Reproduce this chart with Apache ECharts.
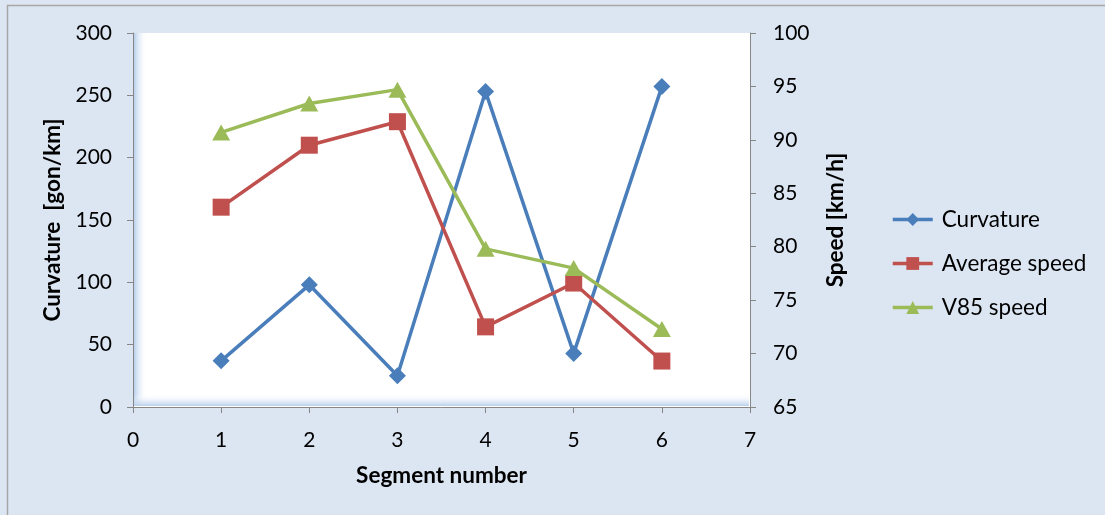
<!DOCTYPE html>
<html>
<head>
<meta charset="utf-8">
<script src="https://cdn.jsdelivr.net/npm/echarts@6/dist/echarts.min.js"></script>
<style>
  html, body { margin: 0; padding: 0; background: #dce6f2; }
  #chart { width: 1105px; height: 515px; }
</style>
</head>
<body>
<div id="chart"></div>
<script>
// Segment numbers along the x axis
const segments = [1, 2, 3, 4, 5, 6];
// Curvature per segment [gon/km] (left axis)
const curvature = [37, 98, 25, 253, 43, 257];
// Mean speed per segment [km/h] (right axis)
const averageSpeed = [83.7, 89.5, 91.7, 72.5, 76.6, 69.3];
// 85th percentile speed per segment [km/h] (right axis)
const v85Speed = [90.7, 93.4, 94.7, 79.8, 78.0, 72.3];

const seriesNames = ['Curvature', 'Average speed', 'V85 speed'];
const colors = ['#4a7ebb', '#c0504d', '#9bbb59'];

const FONT = 'Lato';
const toPairs = vals => vals.map((v, i) => [segments[i], v]);

const axisLine = { lineStyle: { color: '#868686', width: 1 } };
const axisTick = { show: true, length: 6, lineStyle: { color: '#868686' } };
const tickLabel = { color: '#000', fontFamily: FONT, fontSize: 21 };
const titleStyle = { color: '#000', fontFamily: FONT, fontSize: 22.5, fontWeight: 'bold' };

const chart = echarts.init(document.getElementById('chart'), null, { renderer: 'canvas' });

chart.setOption({
  animation: false,
  backgroundColor: '#dce6f2',
  textStyle: { fontFamily: FONT },
  grid: {
    left: 133, right: 355, top: 33, bottom: 108,
    show: true, backgroundColor: '#ffffff', borderWidth: 0
  },
  graphic: [
    // chart-area frame
    { type: 'rect', z: 100, silent: true,
      shape: { x: 7.5, y: 5.5, width: 1110, height: 520 },
      style: { fill: 'none', stroke: '#a6a6a6', lineWidth: 1.5 } },
    // soft inner shading of the plot area (left edge)
    { type: 'rect', z: 1, silent: true,
      shape: { x: 134, y: 33, width: 13, height: 373 },
      style: { fill: new echarts.graphic.LinearGradient(0, 0, 1, 0, [
        { offset: 0, color: '#b8cfec' }, { offset: 1, color: 'rgba(255,255,255,0)' }]) } },
    // soft inner shading of the plot area (bottom edge)
    { type: 'rect', z: 1, silent: true,
      shape: { x: 134, y: 394, width: 615, height: 12 },
      style: { fill: new echarts.graphic.LinearGradient(0, 0, 0, 1, [
        { offset: 0, color: 'rgba(255,255,255,0)' }, { offset: 1, color: '#b8cfec' }]) } }
  ],
  legend: {
    orient: 'vertical',
    left: 886, top: 203,
    itemWidth: 40, itemHeight: 16, itemGap: 21,
    lineStyle: { width: 3.5 },
    textStyle: { color: '#000', fontFamily: FONT, fontSize: 22.5, padding: [0, 0, 0, 4] },
    data: seriesNames
  },
  xAxis: {
    type: 'value', min: 0, max: 7, interval: 1,
    name: 'Segment number', nameLocation: 'middle', nameGap: 57,
    nameTextStyle: titleStyle,
    axisLine: { show: true, ...axisLine }, axisTick,
    axisLabel: { ...tickLabel, margin: 23 },
    splitLine: { show: false }
  },
  yAxis: [
    {
      type: 'value', min: 0, max: 300, interval: 50, position: 'left',
      name: 'Curvature  [gon/km]', nameLocation: 'middle', nameGap: 62,
      nameTextStyle: titleStyle,
      axisLine: { show: true, ...axisLine }, axisTick,
      axisLabel: { ...tickLabel, margin: 21 },
      splitLine: { show: false }
    },
    {
      type: 'value', min: 65, max: 100, interval: 5, position: 'right',
      name: 'Speed [km/h]', nameLocation: 'middle', nameGap: 74,
      nameTextStyle: titleStyle,
      axisLine: { show: true, ...axisLine }, axisTick,
      axisLabel: { ...tickLabel, margin: 23 },
      splitLine: { show: false }
    }
  ],
  series: [
    {
      name: seriesNames[0], type: 'line', yAxisIndex: 0, data: toPairs(curvature),
      symbol: 'diamond', symbolSize: 17,
      lineStyle: { color: colors[0], width: 3.5 }, itemStyle: { color: colors[0] }
    },
    {
      name: seriesNames[1], type: 'line', yAxisIndex: 1, data: toPairs(averageSpeed),
      symbol: 'rect', symbolSize: 17,
      lineStyle: { color: colors[1], width: 3.5 }, itemStyle: { color: colors[1] }
    },
    {
      name: seriesNames[2], type: 'line', yAxisIndex: 1, data: toPairs(v85Speed),
      symbol: 'triangle', symbolSize: [18, 16],
      lineStyle: { color: colors[2], width: 3.5 }, itemStyle: { color: colors[2] }
    }
  ]
});
</script>
</body>
</html>
